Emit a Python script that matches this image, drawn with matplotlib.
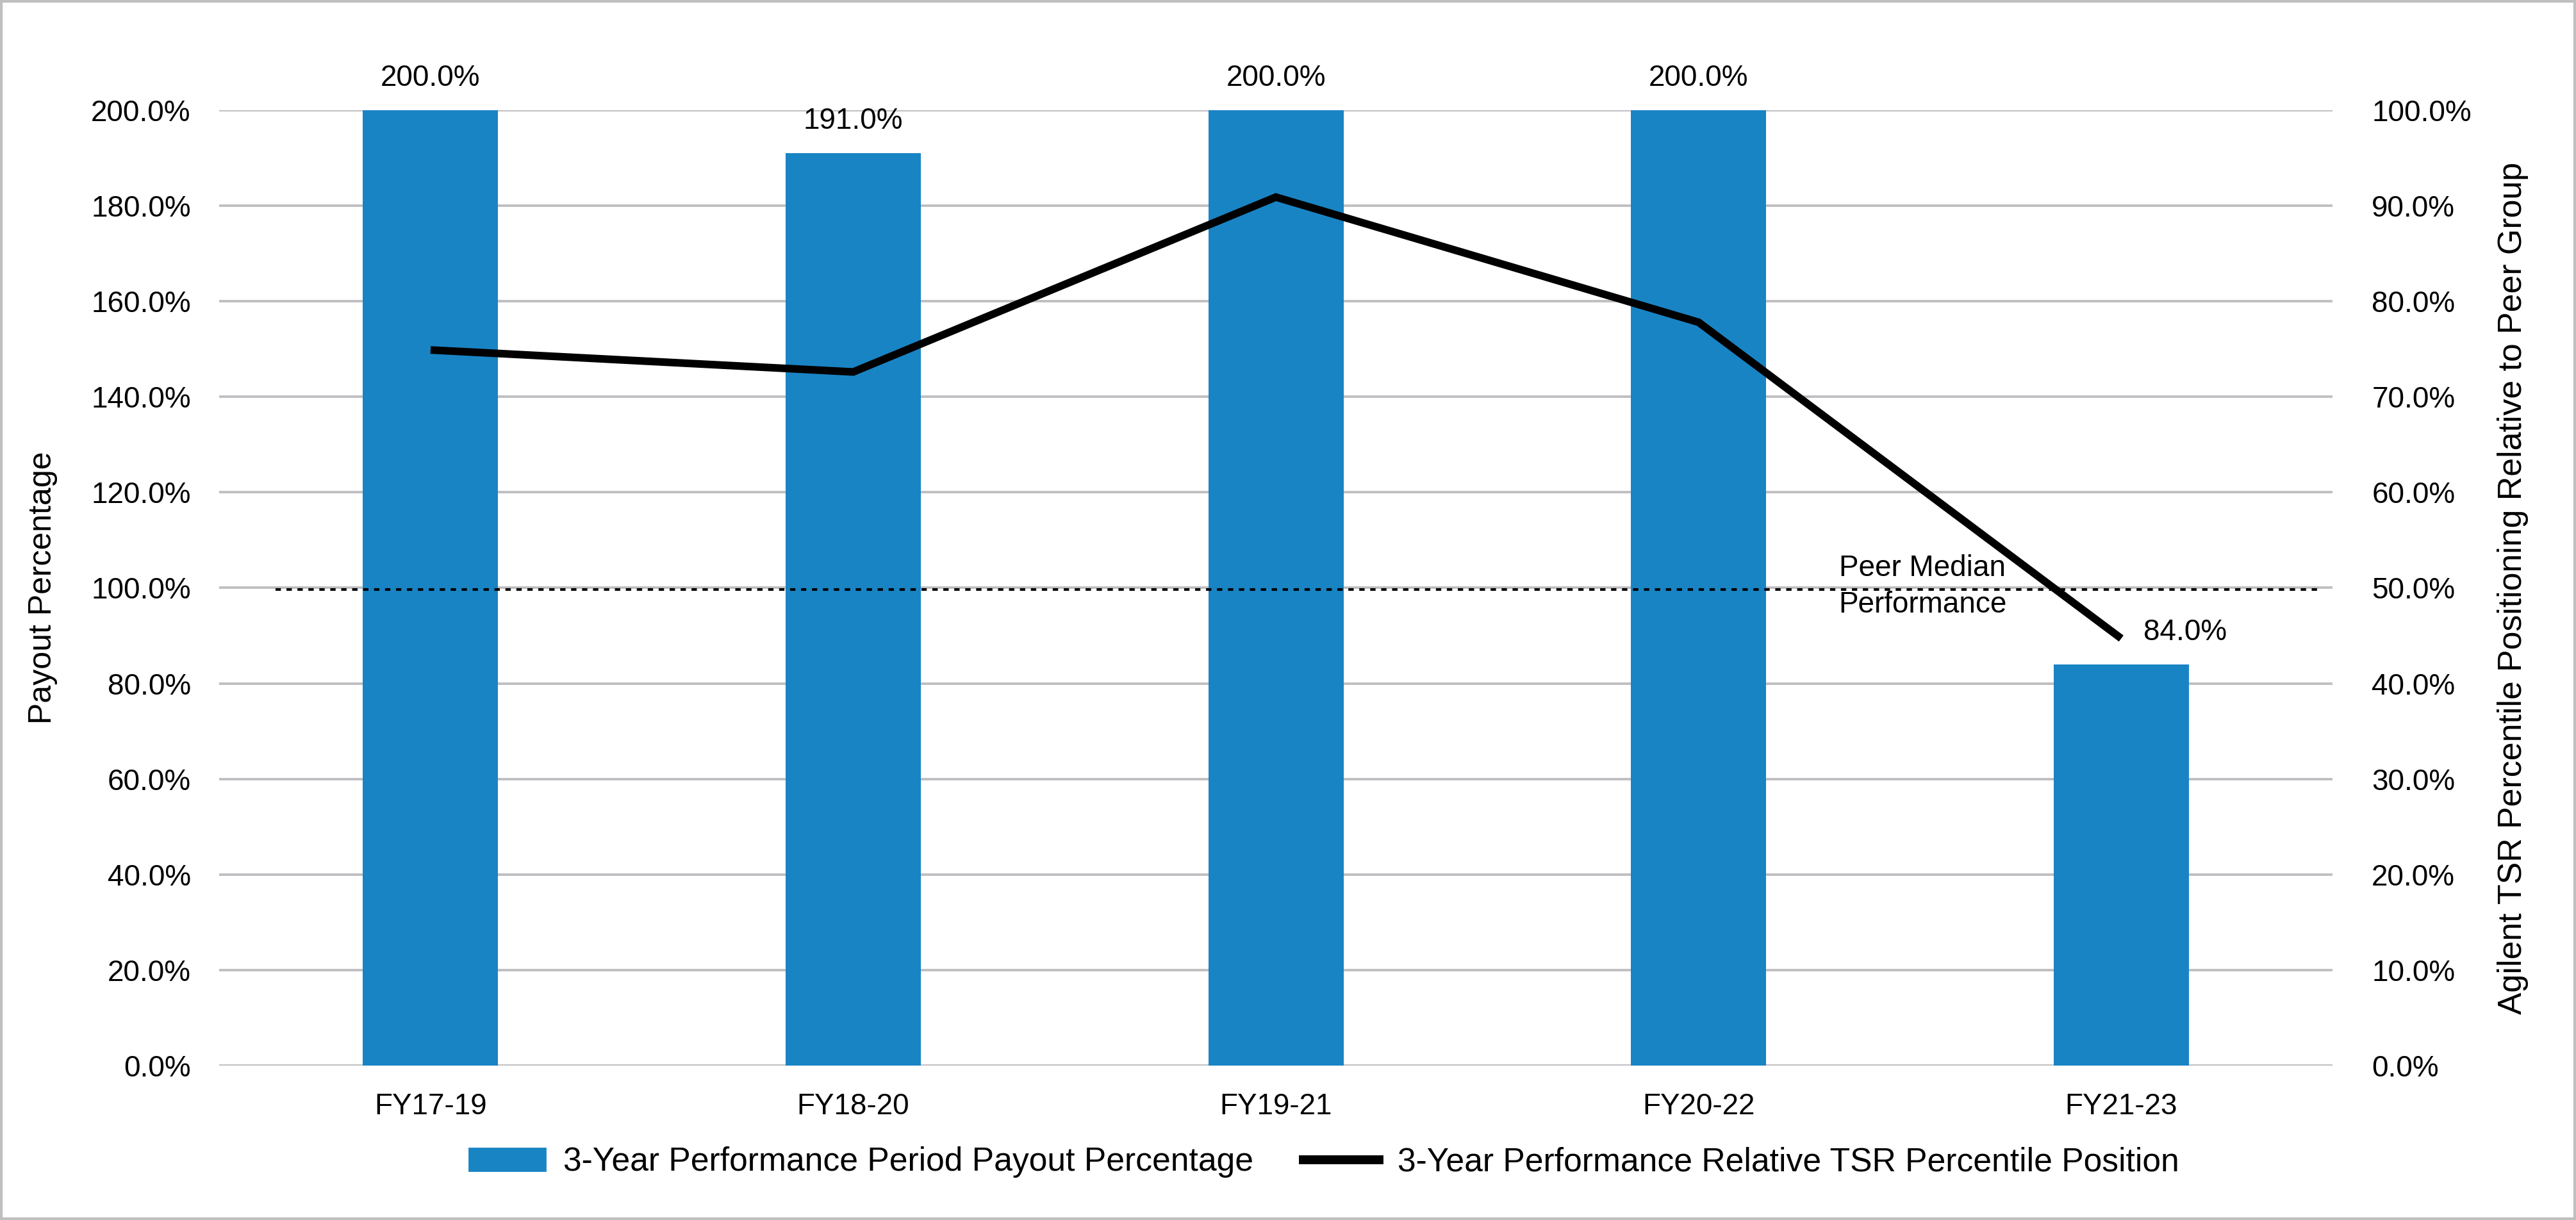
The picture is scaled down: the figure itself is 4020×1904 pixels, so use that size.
import matplotlib
matplotlib.use("Agg")
import matplotlib.pyplot as plt
from matplotlib.patches import Patch, Rectangle
from matplotlib.lines import Line2D
from matplotlib.ticker import FuncFormatter

plt.rcParams['font.family'] = ['Liberation Sans Narrow', 'Liberation Sans', 'DejaVu Sans']

# data
periods = ["FY17-19", "FY18-20", "FY19-21", "FY20-22", "FY21-23"]
payout_pct = [200.0, 191.0, 200.0, 200.0, 84.0]          # left axis, bars
tsr_percentile = [74.9, 72.6, 90.9, 77.8, 44.7]           # right axis, line
payout_labels = ["200.0%", "191.0%", "200.0%", "200.0%", "84.0%"]
peer_median = 49.8

bar_color = "#1984C4"
grid_color = "#BFBFC2"
fs = 16.5

fig = plt.figure(figsize=(20.1, 9.52), dpi=200)
ax = fig.add_axes([0.0851, 0.1266, 0.8204, 0.7831])
ax2 = ax.twinx()

x = list(range(len(periods)))

# bars on the left axis
ax.bar(x, payout_pct, width=0.32, color=bar_color, zorder=2)
ax.set_xlim(-0.5, len(periods) - 0.5)
ax.set_ylim(0, 200)
ax.set_yticks(range(0, 201, 20))
ax.yaxis.set_major_formatter(FuncFormatter(lambda v, p: f"{v:.1f}%"))
ax.grid(axis="y", color=grid_color, linewidth=1.4, zorder=0)
ax.set_axisbelow(True)
ax.set_xticks(x)
ax.set_xticklabels(periods, fontsize=fs)
ax.tick_params(axis="both", length=0, labelsize=fs)
ax.tick_params(axis="y", pad=16)
ax.tick_params(axis="x", pad=15)
ax.set_ylabel("Payout Percentage", fontsize=fs + 1.5)
ax.yaxis.set_label_coords(-0.0764, 0.5)

# value labels above bars
for i, (v, lab) in enumerate(zip(payout_pct, payout_labels)):
    dx = 36 if v < 100 else 0
    ax.annotate(lab, (i, v), xytext=(dx, 18), textcoords="offset points",
                ha="center", va="center", fontsize=fs)

# line on the right axis
ax2.plot(x, tsr_percentile, color="black", linewidth=4.3, solid_capstyle="butt",
         solid_joinstyle="miter", zorder=4)
ax2.axhline(peer_median, xmin=0.0267, xmax=0.9948, color="black",
            linewidth=1.5, linestyle=(0, (2, 2.1)), zorder=3)
ax2.text(3.53, peer_median + 0.3, "Peer Median\nPerformance", ha="center", va="center",
         fontsize=fs, linespacing=1.38, zorder=5)
ax2.set_ylim(0, 100)
ax2.set_yticks(range(0, 101, 10))
ax2.yaxis.set_major_formatter(FuncFormatter(lambda v, p: f"{v:.1f}%"))
ax2.tick_params(axis="y", length=0, labelsize=fs, pad=22)
ax2.set_ylabel("Agilent TSR Percentile Positioning Relative to Peer Group", fontsize=fs + 2.2)
ax2.yaxis.set_label_coords(1.078, 0.5)

for a in (ax, ax2):
    for s in a.spines.values():
        s.set_visible(False)

# legend below the plot
handles = [Patch(facecolor=bar_color, edgecolor=bar_color),
           Line2D([0], [0], color="black", linewidth=5)]
names = ["3-Year Performance Period Payout Percentage",
         "3-Year Performance Relative TSR Percentile Position"]
fig.legend(handles, names, loc="center", bbox_to_anchor=(0.514, 0.0473), ncol=2,
           frameon=False, fontsize=fs + 2.1, handlelength=2.3, handleheight=0.65,
           handletextpad=0.55, columnspacing=1.5)

# outer chart border
fig.patches.append(Rectangle((0, 0), 1, 1, transform=fig.transFigure, fill=False,
                             edgecolor="#BFBFBF", linewidth=3))

fig.savefig("out.png", dpi=200)
